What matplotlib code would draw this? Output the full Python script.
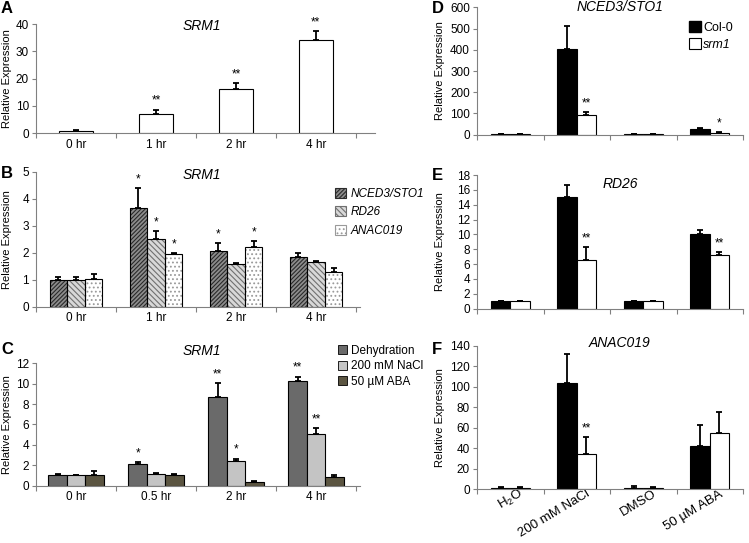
import matplotlib
matplotlib.use("Agg")
import matplotlib.pyplot as plt
import matplotlib.transforms as mtransforms
import numpy as np
from matplotlib.patches import Patch

plt.rcParams["font.family"] = ["Liberation Sans", "DejaVu Sans"]
plt.rcParams["mathtext.fontset"] = "custom"
plt.rcParams["mathtext.rm"] = "Liberation Sans"
plt.rcParams["hatch.linewidth"] = 0.8

# panel A
times_a = ["0 hr", "1 hr", "2 hr", "4 hr"]
srm1_a = [0.8, 7.1, 16.2, 34.0]
srm1_a_err = [0.3, 1.5, 2.2, 3.3]
srm1_a_stars = ["", "**", "**", "**"]

# panel B
times_b = ["0 hr", "1 hr", "2 hr", "4 hr"]
nced3_b = [1.0, 3.64, 2.05, 1.85]
nced3_b_err = [0.1, 0.74, 0.3, 0.13]
nced3_b_stars = ["", "*", "*", ""]
rd26_b = [1.0, 2.49, 1.6, 1.67]
rd26_b_err = [0.1, 0.32, 0.03, 0.03]
rd26_b_stars = ["", "*", "", ""]
anac_b = [1.01, 1.94, 2.22, 1.3]
anac_b_err = [0.2, 0.04, 0.2, 0.12]
anac_b_stars = ["", "*", "*", ""]

# panel C
times_c = ["0 hr", "0.5 hr", "2 hr", "4 hr"]
dehyd_c = [1.01, 2.12, 8.73, 10.26]
dehyd_c_err = [0.09, 0.23, 1.3, 0.44]
dehyd_c_stars = ["", "*", "**", "**"]
nacl_c = [1.0, 1.18, 2.39, 5.03]
nacl_c_err = [0.05, 0.09, 0.26, 0.59]
nacl_c_stars = ["", "", "*", "**"]
aba_c = [1.0, 1.0, 0.36, 0.85]
aba_c_err = [0.4, 0.1, 0.14, 0.2]
aba_c_stars = ["", "", "", ""]

# panels D-F
treatments = ["H$_2$O", "200 mM NaCl", "DMSO", "50 µM ABA"]
col0_d = [3, 403, 3, 25]
col0_d_err = [1, 110, 1, 6]
srm1_d = [3, 91, 3, 8]
srm1_d_err = [1, 16, 1, 4]
srm1_d_stars = ["", "**", "", "*"]

col0_e = [1.0, 15.1, 1.0, 10.05]
col0_e_err = [0.05, 1.5, 0.1, 0.55]
srm1_e = [1.0, 6.6, 1.0, 7.25]
srm1_e_err = [0.1, 1.7, 0.05, 0.4]
srm1_e_stars = ["", "**", "", "**"]

col0_f = [1, 104, 1, 42]
col0_f_err = [0.5, 28, 1.5, 21]
srm1_f = [1, 34, 1, 54.4]
srm1_f_err = [0.5, 16.5, 0.5, 20.6]
srm1_f_stars = ["", "**", "", ""]

W, H = 749, 543
fig = plt.figure(figsize=(W / 100, H / 100), dpi=100)
SPINE = "#808080"


def make_axes(left, top, right, bottom):
    ax = fig.add_axes([left / W, 1 - bottom / H, (right - left) / W, (bottom - top) / H])
    for side in ["top", "right"]:
        ax.spines[side].set_visible(False)
    for side in ["left", "bottom"]:
        ax.spines[side].set_color(SPINE)
        ax.spines[side].set_linewidth(0.8)
    ax.tick_params(axis="y", length=3, width=0.8, color=SPINE, labelsize=8.5, pad=2)
    ax.tick_params(axis="x", which="major", length=0, labelsize=8.5, pad=4)
    ax.tick_params(axis="x", which="minor", length=3.5, width=0.8, color=SPINE)
    return ax


def set_categories(ax, labels, xmax):
    n = len(labels)
    ax.set_xticks(np.arange(n))
    ax.set_xticklabels(labels)
    ax.set_xticks(np.arange(n + 1) - 0.5, minor=True)
    ax.set_xlim(-0.5, xmax)


def bars(ax, x, vals, errs, width, color, hatch=None, hatch_color=None, stars=None):
    if hatch:
        ax.bar(x, vals, width, color=color, edgecolor=hatch_color, hatch=hatch, linewidth=0, zorder=2)
        ax.bar(x, vals, width, fill=False, edgecolor="black", linewidth=0.8, zorder=3)
    else:
        ax.bar(x, vals, width, color=color, edgecolor="black", linewidth=0.8, zorder=2)
    ax.errorbar(x, vals, yerr=[np.zeros(len(vals)), errs], fmt="none", ecolor="black",
                elinewidth=1.3, capsize=2.3, capthick=1.3, zorder=4)
    if stars:
        for xi, v, e, s in zip(x, vals, errs, stars):
            if s:
                ax.annotate(s, (xi, v + e), xytext=(0, 2), textcoords="offset points",
                            ha="center", va="bottom", fontsize=8.5)


def ylabel(ax, right_px, left_px):
    # right_px: where the right edge of the rotated label should sit, in figure pixels
    ax.set_ylabel("Relative Expression", fontsize=8)
    width = ax.get_position().width * W
    ax.yaxis.set_label_coords((right_px - left_px) / width, 0.5)


def panel_letter(letter, x, y):
    fig.text(x / W, 1 - y / H, letter, fontsize=12, fontweight="bold", ha="left", va="top")


def title(text, x, y):
    fig.text(x / W, 1 - y / H, text, fontsize=10, style="italic", ha="center", va="center")


# A
ax = make_axes(36, 24, 375, 133)
x = np.arange(len(times_a))
bars(ax, x, srm1_a, srm1_a_err, 0.42, "white", stars=srm1_a_stars)
set_categories(ax, times_a, 3.74)
ax.set_ylim(0, 40)
ax.set_yticks(range(0, 41, 10))
ylabel(ax, 12, 36)
panel_letter("A", 1, 1)
title("SRM1", 202, 26)

# B
ax = make_axes(36, 171.7, 360, 306.7)
x = np.arange(len(times_b))
w = 0.22
bars(ax, x - w, nced3_b, nced3_b_err, w, "#8c8c8c", "////////", "#2a2a2a", nced3_b_stars)
bars(ax, x, rd26_b, rd26_b_err, w, "#d8d8d8", "\\\\\\\\\\\\", "#707070", rd26_b_stars)
bars(ax, x + w, anac_b, anac_b_err, w, "white", "....", "#9a9a9a", anac_b_stars)
set_categories(ax, times_b, 3.55)
ax.set_ylim(0, 5)
ax.set_yticks(range(0, 6))
ylabel(ax, 12, 36)
handles_b = [
    Patch(facecolor="#8c8c8c", edgecolor="#2a2a2a", hatch="////////", linewidth=0.8),
    Patch(facecolor="#d8d8d8", edgecolor="#707070", hatch="\\\\\\\\\\\\", linewidth=0.8),
    Patch(facecolor="white", edgecolor="#9a9a9a", hatch="....", linewidth=0.8),
]
leg = ax.legend(handles_b, ["NCED3/STO1", "RD26", "ANAC019"], loc="upper left",
                bbox_to_anchor=(329 / W, 1 - 182 / H), bbox_transform=fig.transFigure,
                frameon=False, fontsize=8.5, handlelength=0.9, handleheight=0.9,
                handletextpad=0.4, labelspacing=0.55, borderpad=0)
for t in leg.get_texts():
    t.set_style("italic")
panel_letter("B", 1, 166)
title("SRM1", 202, 175)

# C
ax = make_axes(36, 363.3, 360, 485.7)
x = np.arange(len(times_c))
w = 0.23
bars(ax, x - w, dehyd_c, dehyd_c_err, w, "#6a6a6a", stars=dehyd_c_stars)
bars(ax, x, nacl_c, nacl_c_err, w, "#c4c4c4", stars=nacl_c_stars)
bars(ax, x + w, aba_c, aba_c_err, w, "#5b5541", stars=aba_c_stars)
set_categories(ax, times_c, 3.55)
ax.set_ylim(0, 12)
ax.set_yticks(range(0, 13, 2))
ylabel(ax, 12, 36)
handles_c = [Patch(facecolor=c, edgecolor="black", linewidth=0.6)
             for c in ["#6a6a6a", "#c4c4c4", "#5b5541"]]
ax.legend(handles_c, ["Dehydration", "200 mM NaCl", "50 µM ABA"], loc="upper left",
          bbox_to_anchor=(332 / W, 1 - 339 / H), bbox_transform=fig.transFigure,
          frameon=False, fontsize=8.5, handlelength=0.8, handleheight=0.8,
          handletextpad=0.35, labelspacing=0.3, borderpad=0)
panel_letter("C", 1, 342)
title("SRM1", 202, 351)

# D, E, F
right_panels = [
    ("D", "NCED3/STO1", (7.3, 134.7), col0_d, col0_d_err, srm1_d, srm1_d_err, srm1_d_stars,
     600, 100, 1, 7),
    ("E", "RD26", (175, 308.7), col0_e, col0_e_err, srm1_e, srm1_e_err, srm1_e_stars,
     18, 2, 168, 184),
    ("F", "ANAC019", (346, 489), col0_f, col0_f_err, srm1_f, srm1_f_err, srm1_f_stars,
     140, 20, 342, 343),
]
for letter, name, (top, bottom), c0, c0e, s1, s1e, st, ymax, step, ly, ty in right_panels:
    ax = make_axes(477, top, 743, bottom)
    x = np.arange(len(treatments))
    w = 0.29
    bars(ax, x - w / 2, c0, c0e, w, "black")
    bars(ax, x + w / 2, s1, s1e, w, "white", stars=st)
    set_categories(ax, treatments, 3.5)
    ax.set_ylim(0, ymax)
    ax.set_yticks(np.arange(0, ymax + 1, step))
    ylabel(ax, 445, 477)
    if letter == "F":
        ax.tick_params(axis="x", which="major", pad=3)
        shift = mtransforms.ScaledTranslation(12 / 100, 0, fig.dpi_scale_trans)
        for lab in ax.get_xticklabels():
            lab.set_rotation(31)
            lab.set_ha("right")
            lab.set_va("center")
            lab.set_rotation_mode("anchor")
            lab.set_fontsize(9.5)
            lab.set_transform(lab.get_transform() + shift)
    else:
        ax.set_xticklabels([])
    if letter == "D":
        leg = ax.legend([Patch(facecolor="black", edgecolor="black"),
                         Patch(facecolor="white", edgecolor="black", linewidth=0.8)],
                        ["Col-0", "srm1"], loc="upper left",
                        bbox_to_anchor=(683 / W, 1 - 15 / H), bbox_transform=fig.transFigure,
                        frameon=False, fontsize=9, handlelength=0.9, handleheight=1.0,
                        handletextpad=0.2, labelspacing=0.3, borderpad=0)
        leg.get_texts()[1].set_style("italic")
    panel_letter(letter, 432, ly)
    title(name, 620, ty)

fig.savefig("out.png", dpi=100)
